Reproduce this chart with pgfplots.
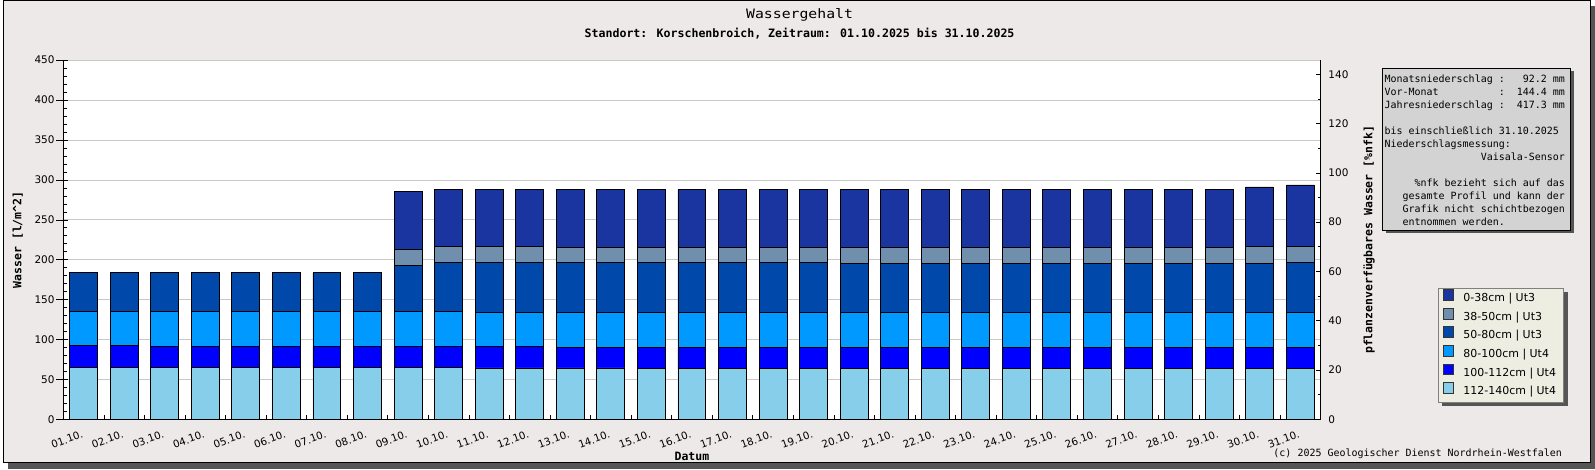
\documentclass[border=0pt]{standalone}
\usepackage{pgfplots}
\pgfplotsset{compat=1.18}
\usepackage{pgfplotstable}
\usepackage{fontspec}
\setmainfont{DejaVu Sans}
\newfontfamily\mono{DejaVu Sans Mono}
\definecolor{cA}{HTML}{1A34A0}
\definecolor{cB}{HTML}{6F8FAD}
\definecolor{cC}{HTML}{0048AA}
\definecolor{cD}{HTML}{0099FF}
\definecolor{cE}{HTML}{0000FF}
\definecolor{cF}{HTML}{87CEEB}
\definecolor{bgc}{HTML}{ECE9E8}
\definecolor{legbg}{HTML}{EDEDE2}
\definecolor{infobg}{HTML}{D3D3D3}
\definecolor{shadowc}{HTML}{555555}
\definecolor{gridc}{HTML}{C8C8C8}
\definecolor{legdraw}{HTML}{808080}

\pgfdeclarelayer{bottomlayer}
\pgfdeclarelayer{shadowlayer}
\pgfsetlayers{bottomlayer,shadowlayer,main}

\pgfplotstableread{
x a b c d e f
0 65 27.5 43.3 47.9 0 0
1 65 27.5 43.3 47.9 0 0
2 65 26.6 44.2 47.9 0 0
3 65 26.6 43.4 48.7 0 0
4 65 26.6 43.4 48.7 0 0
5 65 26.6 43.4 48.7 0 0
6 65 26.6 43.4 48.7 0 0
7 65 26.6 43.4 48.7 0 0
8 65 26.6 43.4 57.5 20 72.5
9 65 26.6 43.4 61.2 20 71.3
10 64.5 27.1 42.1 62.5 20 71.3
11 64.5 27.1 42.1 62.5 20 71.3
12 64.5 25.9 43.3 62.5 18.8 72.5
13 64.5 25.9 43.3 62.5 18.8 72.5
14 63.3 27.1 43.3 62.5 18.8 72.5
15 63.3 27.1 43.3 62.5 18.8 72.5
16 63.3 27.1 43.3 62.5 18.8 72.5
17 63.3 27.1 43.3 62.5 18.8 72.5
18 63.3 27.1 43.3 62.5 18.8 72.5
19 63.3 27.1 43.3 61.3 20 72.5
20 63.3 27.1 43.3 61.3 20 72.5
21 63.3 27.1 43.3 61.3 20 72.5
22 63.3 27.1 43.3 61.3 20 72.5
23 63.3 27.1 43.3 61.3 20 72.5
24 63.3 27.1 43.3 61.3 20 72.5
25 63.3 27.1 43.3 61.3 20 72.5
26 63.3 27.1 43.3 61.3 20 72.5
27 63.3 27.1 43.3 61.3 20 72.5
28 63.3 27.1 43.3 61.3 20 72.5
29 63.3 27.1 43.3 61.3 21.2 75
30 63.3 27.1 43.3 62.5 20 77.5
}\wtab

\pgfplotsset{
  mybar/.style={fill=#1, draw=black, line width=0.9pt,
    legend image code/.code={\draw[##1,draw=black!80,line width=0.6pt] (0pt,-1.35pt) rectangle (10.7pt,9.35pt);}},
}

\newlength\cw
\newcommand\infofont{\mono\fontsize{10}{12}\selectfont}

\begin{document}
\settowidth{\cw}{\infofont 0}
\begin{tikzpicture}
\useasboundingbox (0pt,0pt) rectangle (1595pt,470pt);
\begin{pgfonlayer}{bottomlayer}
\fill[shadowc] (5pt,0pt) rectangle (1595pt,464pt);
\filldraw[fill=bgc,draw=black,line width=1pt] (0.5pt,6.5pt) rectangle (1590pt,469.5pt);
\end{pgfonlayer}

\node[anchor=base, font=\mono\fontsize{13}{15}\selectfont, xscale=1.14] at (798pt,451.7pt) {Wassergehalt};
\node[anchor=base, font=\mono\bfseries\fontsize{11.6}{14}\selectfont] at (798pt,432.3pt) {Standort: Korschenbroich, Zeitraum: 01.10.2025 bis 31.10.2025};
\node[anchor=base east, font=\mono\fontsize{10}{12}\selectfont, inner sep=0pt] at (1562pt,12.3pt) {(c) 2025 Geologischer Dienst Nordrhein-Westfalen};

\begin{axis}[
  at={(60.3pt,49.7pt)}, anchor=south west,
  scale only axis, width=1259.7pt, height=360pt,
  xmin=-0.5, xmax=30.5, ymin=0, ymax=450,
  axis x line*=bottom, axis y line*=left,
  axis line style={line width=0.8pt, black},
  axis background/.style={fill=white},
  ybar stacked, bar width=28pt,
  ytick={0,50,...,450}, minor y tick num=4,
  xtick={0,...,30},
  xticklabels={01.10.,02.10.,03.10.,04.10.,05.10.,06.10.,07.10.,08.10.,09.10.,10.10.,11.10.,12.10.,13.10.,14.10.,15.10.,16.10.,17.10.,18.10.,19.10.,20.10.,21.10.,22.10.,23.10.,24.10.,25.10.,26.10.,27.10.,28.10.,29.10.,30.10.,31.10.},
  minor x tick num=1,
  tick align=inside,
  major tick length=12pt, minor tick length=4pt,
  tick style={black, line width=0.7pt},
  every major x tick/.style={draw=none},
  every major y tick/.append style={xshift=-7pt},
  ymajorgrids, grid style={gridc, line width=0.8pt},
  /pgf/number format/assume math mode=true,
  yticklabel style={font=\fontsize{10.5}{12}\selectfont, inner sep=0pt, xshift=-8.6pt},
  xticklabel style={font=\fontsize{10.3}{12}\selectfont, inner sep=0pt, anchor=north east, xshift=-2.5pt, yshift=-10.5pt, rotate=20},
  xlabel={Datum},
  xlabel style={font=\mono\bfseries\fontsize{11.5}{14}\selectfont, at={(axis description cs:0.5,-0.1131)}, anchor=base},
  ylabel={Wasser [l/m\^{}2]},
  ylabel style={font=\mono\bfseries\fontsize{11.5}{14}\selectfont, at={(axis description cs:-0.0333,0.5)}, anchor=base},
  reverse legend,
  legend cell align=left,
  legend style={name=myleg, at={(axis description cs:1.0934,0.3667)}, anchor=north west,
    fill=legbg, draw=legdraw, line width=0.7pt,
    inner xsep=4.3pt, inner ysep=1.3pt, row sep=0pt, column sep=6.6pt,
    font=\fontsize{11}{13}\selectfont,
    nodes={inner xsep=3pt, inner ysep=3.5pt, text height=8.3pt, text depth=2.6pt}},
]
\addplot[mybar=cF] table[x=x,y=a]{\wtab};
\addplot[mybar=cE] table[x=x,y=b]{\wtab};
\addplot[mybar=cD] table[x=x,y=c]{\wtab};
\addplot[mybar=cC] table[x=x,y=d]{\wtab};
\addplot[mybar=cB] table[x=x,y=e]{\wtab};
\addplot[mybar=cA] table[x=x,y=f]{\wtab};
\legend{112-140cm | Ut4, 100-112cm | Ut4, 80-100cm | Ut4, 50-80cm | Ut3, 38-50cm | Ut3, 0-38cm | Ut3}
\end{axis}

\begin{pgfonlayer}{shadowlayer}
\fill[shadowc] ([xshift=4pt,yshift=-4pt]myleg.south west) rectangle ([xshift=4pt,yshift=-4pt]myleg.north east);
\end{pgfonlayer}

\begin{axis}[
  at={(60.3pt,49.7pt)}, anchor=south west,
  scale only axis, width=1259.7pt, height=360pt,
  xmin=-0.5, xmax=30.5, ymin=0, ymax=145.7,
  hide x axis, axis y line*=right,
  axis line style={line width=0.8pt, black},
  ytick={0,20,...,140}, minor y tick num=1,
  tick align=inside, major tick length=5pt, minor tick length=3pt,
  tick style={black, line width=0.7pt},
  /pgf/number format/assume math mode=true,
  yticklabel style={font=\fontsize{10.5}{12}\selectfont, inner sep=0pt, xshift=7.7pt, anchor=west},
  ylabel={pflanzenverfügbares Wasser [\%nfk]},
  ylabel style={font=\mono\bfseries\fontsize{11.5}{14}\selectfont, at={(axis description cs:1.0413,0.5)}, anchor=base},
]
\end{axis}

% info box
\fill[shadowc] (1385.2pt,236.3pt) rectangle (1574.2pt,398.7pt);
\filldraw[fill=infobg, draw=black, line width=0.8pt] (1381.7pt,239.3pt) rectangle (1570.7pt,401.7pt);
\begin{scope}[every node/.style={anchor=base west, inner sep=0pt, font=\infofont}]
\node at (1384pt,387.3pt) {\makebox[20\cw][l]{Monatsniederschlag :}\makebox[10\cw][r]{92.2 mm}};
\node at (1384pt,374.26pt) {\makebox[20\cw][l]{Vor-Monat\hfill:}\makebox[10\cw][r]{144.4 mm}};
\node at (1384pt,361.22pt) {\makebox[20\cw][l]{Jahresniederschlag :}\makebox[10\cw][r]{417.3 mm}};
\node at (1384pt,335.14pt) {bis einschließlich 31.10.2025};
\node at (1384pt,322.1pt) {Niederschlagsmessung:};
\node at (1384pt,309.06pt) {\makebox[30\cw][r]{Vaisala-Sensor}};
\node at (1384pt,282.98pt) {\makebox[30\cw][r]{\%nfk bezieht sich auf das}};
\node at (1384pt,269.94pt) {\makebox[30\cw][r]{gesamte Profil und kann der}};
\node at (1384pt,256.9pt) {\makebox[30\cw][r]{Grafik nicht schichtbezogen}};
\node at (1384pt,243.86pt) {\makebox[30\cw][l]{\hspace*{3\cw}entnommen werden.}};
\end{scope}
\end{tikzpicture}
\end{document}
